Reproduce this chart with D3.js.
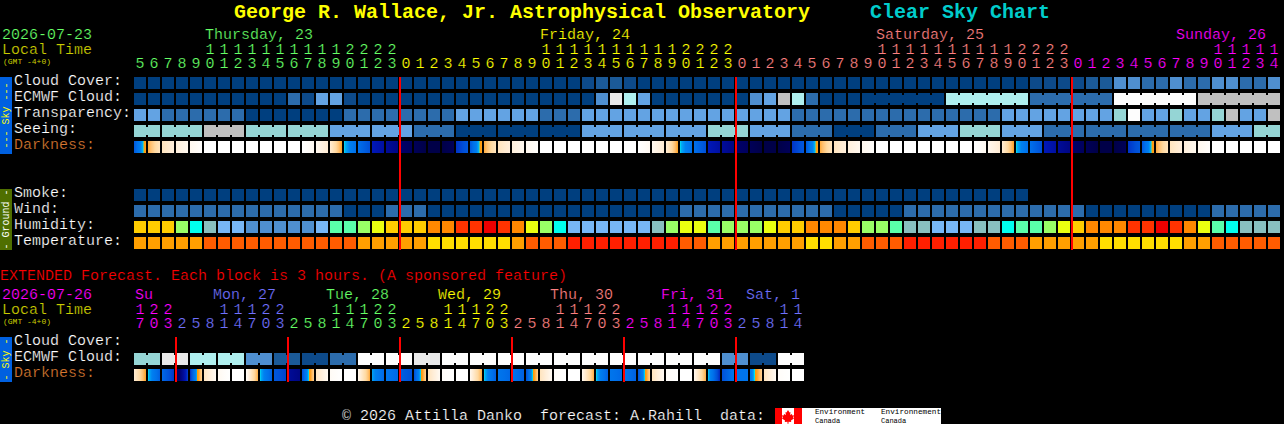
<!DOCTYPE html>
<html><head><meta charset="utf-8">
<script src="https://cdn.jsdelivr.net/npm/d3@7"></script>
<style>html,body{margin:0;padding:0;background:#000;overflow:hidden}
svg{display:block}
text{font-family:"Liberation Mono","DejaVu Sans Mono",monospace;white-space:pre}
.thin{stroke:#000;stroke-width:.22px}
</style></head><body><svg id="c" width="1284" height="424"></svg>
<script>
// ---------- category lists ----------
const skyRows = ["Cloud Cover:", "ECMWF Cloud:", "Transparency:", "Seeing:", "Darkness:"];
const groundRows = ["Smoke:", "Wind:", "Humidity:", "Temperature:"];
const extRows = ["Cloud Cover:", "ECMWF Cloud:", "Darkness:"];

const hours1 = [5,6,7,8,9,10,11,12,13,14,15,16,17,18,19,20,21,22,23,
 0,1,2,3,4,5,6,7,8,9,10,11,12,13,14,15,16,17,18,19,20,21,22,23,
 0,1,2,3,4,5,6,7,8,9,10,11,12,13,14,15,16,17,18,19,20,21,22,23,
 0,1,2,3,4,5,6,7,8,9,10,11,12,13,14];
const daySpans1 = [19,24,24,15];
const dayNames1 = ["Thursday, 23","Friday, 24","Saturday, 25","Sunday, 26"];
const hours2 = [17,20,23,2,5,8,11,14,17,20,23,2,5,8,11,14,17,20,23,2,5,8,11,14,17,20,23,
 2,5,8,11,14,17,20,23,2,5,8,11,14,17,20,23,2,5,8,11,14];
const daySpans2 = [3,8,8,8,8,8,5];
const dayNames2 = ["Su","Mon, 27","Tue, 28","Wed, 29","Thu, 30","Fri, 31","Sat, 1"];

// ---------- series (sky level 0 clear ... 9 white, 10 grey) ----------
const cloudCover = [0,0,0,0,0,0,0,0,0,0,0,0,0,0,0,0,0,0,0,0,0,0,0,0,0,0,0,0,0,0,0,0,
 1,2,2,1,0,0,0,0,0,0,0,0,0,0,0,0,0,0,0,0,0,0,0,0,0,0,0,0,0,0,0,0,
 1,1,1,1,2,2,4,4,3,3,4,3,3,4,4,3,3,4];
const ecmwf = [0,0,0,0,0,0,0,0,0,0,0,3,1,5,5,1,0,0,0,0,0,0,0,0,0,0,0,0,0,0,0,0,0,
 4,8,7,5,0,0,0,0,0,0,0,4,5,10,7,3,0,0,0,0,0,0,0,0,0,
 7,7,7,7,7,7,3,3,3,3,3,3,9,9,9,9,9,9,10,10,10,10,10,10];
const ecmwfSpans = [1,1,1,1,1,1,1,1,1,1,1,1,1,1,1,1,1,1,1,1,1,1,1,1,1,1,
 1,1,1,1,1,1,1,1,1,1,1,1,1,1,1,1,1,1,1,1,1,1,1,1,1,1,6,6,6,6,6];
const transparency = [5,5,3,3,3,3,3,3,0,0,0,0,0,0,0,3,3,3,3,3,3,3,3,5,5,5,5,5,5,3,3,3,
 5,5,5,5,5,5,5,5,5,5,5,5,5,5,5,3,3,3,3,3,3,3,3,3,3,3,3,3,3,3,
 5,5,5,5,5,5,5,5,6,9,5,5,6,5,5,6,10,5,5,10];
const seeing = [6,6,6,6,6,10,10,10,6,6,6,6,6,6,5,5,5,5,5,5,3,3,3,0,0,0,0,0,0,0,0,0,
 5,5,5,5,5,5,5,5,5,6,6,6,5,5,5,3,3,3,0,0,0,3,3,3,5,5,5,6,6,6,5,5,5,
 3,3,3,3,3,3,3,3,3,3,3,3,5,5,5,6,6];
const seeingSpans = [2,3,3,3,3,3,3,3,3,3,3,3,3,3,3,3,3,3,3,3,3,3,3,3,3,3,3,2];
const darkStart = [5.8,3.4,1.7,1,.5,0,0,0,0,0,0,0,0,.5,1.2,4.1,5.2,6.8,7.5,8.8,9.5,10,10,6.4,
 5.8,3.4,1.7,1,.5,0,0,0,0,0,0,0,0,.5,1.2,4.1,5.2,6.8,7.5,8.8,9.5,10,10,6.4,
 5.8,3.4,1.7,1,.5,0,0,0,0,0,0,0,0,.5,1.2,4.1,5.2,6.8,7.5,8.8,9.5,10,10,6.4,
 5.8,3.4,1.7,1,.5,0,0,0,0,0];
const darkEnd = [3.6,1.7,1,.5,.1,0,0,0,0,0,0,0,.4,1.2,3.6,5.2,6,7.3,8,9.3,10,10,9.5,5.8,
 3.6,1.7,1,.5,.1,0,0,0,0,0,0,0,.4,1.2,3.6,5.2,6,7.3,8,9.3,10,10,9.5,5.8,
 3.6,1.7,1,.5,.1,0,0,0,0,0,0,0,.4,1.2,3.6,5.2,6,7.3,8,9.3,10,10,9.5,5.8,
 3.6,1.7,1,.5,.1,0,0,0,0,0];
const smoke = [0,0,0,0,0,0,0,0,0,0,0,0,0,0,0,0,0,0,0,0,0,0,0,0,0,0,0,0,0,0,0,0,
 0,0,0,0,0,0,0,0,0,0,0,0,0,0,0,0,0,0,0,0,0,0,0,0,0,0,0,0,0,0,0,0];
const wind = [3,3,3,3,3,3,3,3,3,3,3,3,3,3,3,0,0,0,3,3,3,0,0,0,0,0,0,0,0,0,0,0,0,0,0,0,0,0,0,
 3,3,3,3,3,3,3,3,3,3,3,0,0,0,0,0,3,3,3,3,3,3,3,3,3,3,3,3,3,0,0,0,0,0,0,0,0,0,3,3,3,3,3];
const humidity = [3,3,3,5,7,8,9,9,10,10,10,10,10,9,6,6,5,4,3,3,3,2,2,1,1,0,1,2,4,5,7,
 9,9,9,9,9,9,8,5,4,4,6,5,5,5,4,3,3,2,2,2,3,5,5,6,8,8,9,9,9,8,8,7,6,6,5,4,3,2,2,2,1,1,0,1,2,4,6,7,8,8,8];
const temperature = [2,2,2,2,2,1,1,1,1,1,1,1,1,1,1,1,2,2,2,2,2,3,3,3,3,3,3,2,1,1,1,
 0,0,0,0,0,0,0,0,1,1,2,2,2,2,2,2,2,3,3,2,2,1,1,1,0,0,0,0,0,0,1,1,1,2,2,2,2,2,3,3,3,3,3,3,2,2,1,1,1,1,1];

const extEcmwf = [6,6,8,8,7,7,7,7,4,4,2,2,1,1,3,3,9,9,9,9,8,8,9,9,9,9,9,9,9,9,9,9,9,9,9,9,9,9,9,9,9,9,4,4,1,1,9,9];
const extSpans = [2,2,2,2,2,2,2,2,2,2,2,2,2,2,2,2,2,2,2,2,2,2,2,2];
const extDarkStart = [1.2,4.1,5.4,9.5,6.5,1.6,.4,0,.2,4.1,5.8,7.5,6,1.6,.3,0,.5,4.3,5,5.6,6,1.7,.2,0,.5,4.1,5,5,6,1.7,.2,0,.5,4.1,5,5,6,1.7,.2,0,.5,4.1,6,5,5,1.7,.2,0];
const extDarkEnd =   [3.6,5.6,6.4,6.2,2.5,.4,0,0,3.4,5.6,6.2,8,2.6,.4,0,0,3.4,5.4,5.4,6,2.6,.4,0,0,3.4,5.6,5.4,5.6,2.6,.4,0,0,3.4,5.6,5.4,5.6,2.6,.4,0,0,3.4,6.6,5,5,2.6,.4,0,0];

// ---------- colour palettes ----------
const skyColours = ["#003f7f","#0d4a8a","#1b5a98","#2c6cac","#4f8fd0","#63a3e3","#95d5d5","#afefef","#e9e9e9","#fdfdfd","#c0c0c0"];
const humidColours = ["#ee0000","#ff3300","#ff8800","#ffcc00","#eaff10","#99ff66","#5affaa","#00ffee","#88bfbf","#77b6f6","#4f8fd0"];
const tempColours = ["#ff1f00","#ff5c00","#ff9f00","#ffde00"];
const darkDomain = [0,.5,1.2,2.4,3,3.6,4,4.1,4.25,4.6,5.2,6,6.8,7.5,8.5,9.5,10];
const darkRange = ["#ffffff","#fff8ef","#ffecd4","#ffd9a0","#ffc070","#ffa020","#ff9a00","#00e4f0","#00a8f4","#0080f0","#0070ea","#0050d8","#0018b8","#000c98","#000070","#000058","#000048"];
const dayColours1 = ["#66ff66","#ffff00","#ff8080","#ff00ff"];
const dayColours2 = ["#ff00ff","#7070ff","#66ff66","#ffff00","#ff8080","#ff00ff","#7070ff"];

// ---------- drawing ----------
const svg = d3.select("#c");
svg.append("rect").attr("width",1284).attr("height",424).attr("fill","#000");
const defs = svg.append("defs");
const BODY = 15;
const darkScale = d3.scaleLinear().domain(darkDomain).range(darkRange).interpolate(d3.interpolateRgb);

function text(x,y,s,fill,size,extra){
  const t = svg.append("text").attr("x",x).attr("y",y).attr("fill",fill).attr("font-size",size||BODY).text(s);
  if(!size) t.attr("class","thin");
  if(extra) extra(t);
  return t;
}
function xBand(n){ return d3.scaleBand().domain(d3.range(n)).range([134,134+n*14-2]).paddingInner(2/14); }
function yBand(rows,top){ return d3.scaleBand().domain(rows).range([top,top+rows.length*16-4]).paddingInner(.25); }
function spanIds(spans){ const out=[]; spans.forEach((s,i)=>{for(let j=0;j<s;j++)out.push(i)}); return out; }

function blockRow(x,yPos,series,colours,spans){
  const g = svg.append("g").attr("shape-rendering","crispEdges");
  g.selectAll("rect.b").data(series).join("rect").attr("class","b")
    .attr("x",(d,i)=>x(i)).attr("y",yPos).attr("width",x.bandwidth()).attr("height",12)
    .attr("fill",d=>colours[d]);
  if(spans){
    const ids = spanIds(spans);
    const links = d3.range(series.length-1).filter(i=>ids[i]===ids[i+1]);
    g.selectAll("rect.l").data(links).join("rect").attr("class","l")
      .attr("x",i=>x(i)+x.bandwidth()).attr("y",yPos+2).attr("width",x.step()-x.bandwidth()).attr("height",8)
      .attr("fill",i=>colours[series[i]]);
  }
}
let gid=0;
function darkRow(x,yPos,starts,ends){
  const g = svg.append("g").attr("shape-rendering","crispEdges");
  starts.forEach((s,i)=>{
    const id="dk"+(gid++), grad=defs.append("linearGradient").attr("id",id);
    const e=ends[i], pts=d3.range(0,1.0001,1/12);
    darkDomain.forEach(v=>{ if((v-s)*(v-e)<0) pts.push((v-s)/(e-s)); });
    pts.sort(d3.ascending).forEach(p=>{
      grad.append("stop").attr("offset",p).attr("stop-color",darkScale(s+(e-s)*p));
    });
    g.append("rect").attr("x",x(i)).attr("y",yPos).attr("width",x.bandwidth()).attr("height",12).attr("fill",`url(#${id})`);
  });
}
function hourLabels(x,hours,spans,colours,tensY,onesY){
  const ids = spanIds(spans);
  const g = svg.append("g").attr("text-anchor","middle").attr("font-size",BODY).attr("class","thin");
  g.selectAll("text.o").data(hours).join("text").attr("class","o")
    .attr("x",(d,i)=>x(i)+x.bandwidth()/2).attr("y",onesY).attr("fill",(d,i)=>colours[ids[i]]).text(d=>d%10);
  g.selectAll("text.t").data(hours.map((h,i)=>({h,i})).filter(d=>d.h>=10)).join("text").attr("class","t")
    .attr("x",d=>x(d.i)+x.bandwidth()/2).attr("y",tensY).attr("fill",d=>colours[ids[d.i]]).text(d=>Math.floor(d.h/10));
}
function sideBar(top,bottom,fill,s,colour){
  svg.append("rect").attr("x",0).attr("y",top).attr("width",12).attr("height",bottom-top).attr("fill",fill).attr("shape-rendering","crispEdges");
  const cy=(top+bottom)/2;
  svg.append("text").attr("transform",`translate(9,${cy}) rotate(-90)`).attr("text-anchor","middle")
    .attr("font-family","'DejaVu Sans Mono',monospace").attr("font-size",10).attr("fill",colour).text(s);
}
function rowLabels(rows,baseTop){
  rows.forEach((r,i)=>text(14,baseTop+i*16,r,(r==="Darkness:")?"#d87830":"#ffffff"));
}

// Titles
const bold = t=>t.attr("font-weight","bold").attr("font-family","'DejaVu Sans Mono',monospace");
text(234,18,"George R. Wallace, Jr. Astrophysical Observatory","#ffff00",20,bold);
text(870,18,"Clear Sky Chart","#00cccc",20,bold);

// Header block 1
text(2,39,"2026-07-23","#66ff66");
text(2,54,"Local Time","#cccc00");
text(3,64,"(GMT -4+0)","#cccc00",8);
const x1 = xBand(hours1.length);
[205,540,876,1176].forEach((px,i)=>text(px,39,dayNames1[i],dayColours1[i]));
hourLabels(x1,hours1,daySpans1,dayColours1,54,68);

// Sky block
sideBar(77,154,"#0060e0","--- Sky ---","#ffff00");
rowLabels(skyRows,85);
const ySky = yBand(skyRows,77);
blockRow(x1,ySky("Cloud Cover:"),cloudCover,skyColours);
blockRow(x1,ySky("ECMWF Cloud:"),ecmwf,skyColours,ecmwfSpans);
blockRow(x1,ySky("Transparency:"),transparency,skyColours);
blockRow(x1,ySky("Seeing:"),seeing,skyColours,seeingSpans);
darkRow(x1,ySky("Darkness:"),darkStart,darkEnd);

// Ground block
sideBar(189,250,"#4f6f00","- Ground -","#ffffff");
rowLabels(groundRows,197);
const yGround = yBand(groundRows,189);
blockRow(x1,yGround("Smoke:"),smoke,skyColours);
blockRow(x1,yGround("Wind:"),wind,skyColours);
blockRow(x1,yGround("Humidity:"),humidity,humidColours);
blockRow(x1,yGround("Temperature:"),temperature,tempColours);

// Midnight markers
const mid1 = hours1.map((h,i)=>h===0?i:-1).filter(i=>i>=0);
svg.append("g").attr("shape-rendering","crispEdges").selectAll("rect").data(mid1).join("rect")
  .attr("x",i=>x1(i)-1).attr("y",77).attr("width",2).attr("height",173).attr("fill","#ff0000");

// Extended
text(0,280,"EXTENDED Forecast. Each block is 3 hours. (A sponsored feature)","#ff0000");
text(2,299,"2026-07-26","#ff00ff");
text(2,314,"Local Time","#cccc00");
text(3,324,"(GMT -4+0)","#cccc00",8);
const x2 = xBand(hours2.length);
[135,213,326,438,550,661,746].forEach((px,i)=>text(px,299,dayNames2[i],dayColours2[i]));
hourLabels(x2,hours2,daySpans2,dayColours2,314,328);
sideBar(337,382,"#0060e0","- Sky -","#ffff00");
rowLabels(extRows,345);
const yExt = yBand(extRows,337);
blockRow(x2,yExt("ECMWF Cloud:"),extEcmwf,skyColours,extSpans);
darkRow(x2,yExt("Darkness:"),extDarkStart,extDarkEnd);
const mid2 = hours2.map((h,i)=>(h===2)?i:-1).filter(i=>i>=0);
svg.append("g").attr("shape-rendering","crispEdges").selectAll("rect").data(mid2).join("rect")
  .attr("x",i=>x2(i)-1).attr("y",337).attr("width",2).attr("height",45).attr("fill","#ff0000");

// Footer
text(342,420,"\u00a9 2026 Attilla Danko  forecast: A.Rahill  data:","#ffffff");
const f = svg.append("g").attr("shape-rendering","crispEdges");
f.append("rect").attr("x",775).attr("y",408).attr("width",166).attr("height",16).attr("fill","#fff");
f.append("rect").attr("x",775).attr("y",408).attr("width",7).attr("height",16).attr("fill","#f00");
f.append("rect").attr("x",794).attr("y",408).attr("width",8).attr("height",16).attr("fill","#f00");
svg.append("path").attr("d","M788 410l1.5 2.500 1-.5-.4 3 1.800-1 .5 1.500 1.600-.2-.8 2.500.8.6-3 2.200.2 1.400-2.700-.3v2h-1v-2l-2.700.3.2-1.400-3-2.200.8-.6-.8-2.500 1.600.2.500-1.500 1.800 1-.4-3 1 .5z").attr("fill","#f00");
[["Environment",815,50],["Environnement",881,60]].forEach(d=>text(d[1],414,d[0],"#000",7,t=>t.attr("textLength",d[2]).attr("lengthAdjust","spacingAndGlyphs")));
[815,881].forEach(px=>text(px,423,"Canada","#000",7));
</script></body></html>
